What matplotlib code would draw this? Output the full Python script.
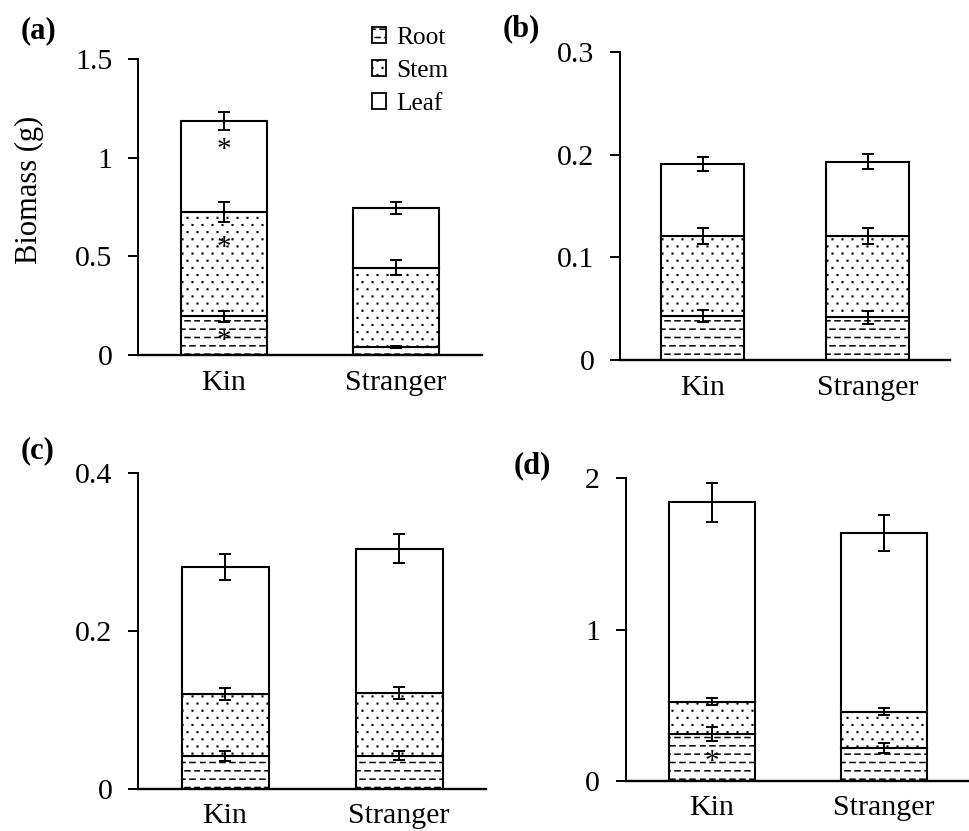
import warnings
import numpy as np
import matplotlib
matplotlib.use("Agg")
import matplotlib.pyplot as plt
import matplotlib.hatch as mhatch
from matplotlib.path import Path
from matplotlib.patches import Patch

warnings.filterwarnings("ignore")

#Values, order = Kin, Stranger
groups = ["Kin", "Stranger"]

# (a)
root_a = [0.197, 0.042]
stem_a = [0.529, 0.400]
leaf_a = [0.458, 0.301]
root_a_err = [0.028, 0.006]
stem_a_err = [0.051, 0.038]
leaf_a_err = [0.046, 0.030]

# (b)
root_b = [0.043, 0.0416]
stem_b = [0.078, 0.079]
leaf_b = [0.070, 0.0728]
root_b_err = [0.0060, 0.0062]
stem_b_err = [0.0075, 0.0077]
leaf_b_err = [0.0068, 0.0071]

# (c)
root_c = [0.0418, 0.042]
stem_c = [0.078, 0.079]
leaf_c = [0.161, 0.183]
root_c_err = [0.0063, 0.0063]
stem_c_err = [0.0078, 0.0078]
leaf_c_err = [0.0162, 0.0181]

# (d)
root_d = [0.309, 0.214]
stem_d = [0.212, 0.243]
leaf_d = [1.320, 1.183]
root_d_err = [0.047, 0.033]
stem_d_err = [0.023, 0.025]
leaf_d_err = [0.131, 0.118]

yticks_a = [0, 0.5, 1, 1.5]
yticks_b = [0, 0.1, 0.2, 0.3]
yticks_c = [0, 0.2, 0.4]
yticks_d = [0, 1, 2]


#Custom hatches: dashed rows for root, staggered dots for stem
class DashRows(mhatch.HatchPatternBase):
    def __init__(self, hatch, density):
        n = hatch.count('_')
        self.rows = 12 * n
        self.cols = 10
        self.num_vertices = self.rows * self.cols * 2

    def set_vertices_and_codes(self, vertices, codes):
        k = 0
        for r in range(self.rows):
            y = (r + 0.5) / self.rows
            shift = 0.5 * (r % 2)
            for c in range(self.cols):
                x0 = (c + shift) / self.cols
                vertices[k] = (x0, y)
                vertices[k + 1] = (x0 + 0.05, y)
                codes[k] = Path.MOVETO
                codes[k + 1] = Path.LINETO
                k += 2


class DotGrid(mhatch.HatchPatternBase):
    def __init__(self, hatch, density):
        n = hatch.count(':')
        self.rows = 14 * n
        self.cols = 10
        self.num_vertices = self.rows * self.cols * 5

    def set_vertices_and_codes(self, vertices, codes):
        s = 0.003
        k = 0
        for r in range(self.rows):
            y = (r + 0.5) / self.rows
            shift = 0.5 * (r % 2)
            for c in range(self.cols):
                x = (c + 0.25 + shift) / self.cols
                vertices[k:k + 5] = [(x - s, y - s), (x + s, y - s),
                                     (x + s, y + s), (x - s, y + s),
                                     (x - s, y - s)]
                codes[k:k + 5] = [Path.MOVETO, Path.LINETO, Path.LINETO,
                                  Path.LINETO, Path.CLOSEPOLY]
                k += 5


mhatch._hatch_types.append(DashRows)
mhatch._hatch_types.append(DotGrid)

plt.rcParams['font.family'] = 'Liberation Serif'
plt.rcParams['hatch.linewidth'] = 1.1
plt.rcParams['hatch.color'] = 'black'

W, H = 969, 831
fig = plt.figure(figsize=(W / 100, H / 100), dpi=100)


def px_axes(left, top, right, bottom):
    return fig.add_axes([left / W, 1 - bottom / H, (right - left) / W, (bottom - top) / H])


def draw_panel(ax, root, stem, leaf, root_err, stem_err, leaf_err, yticks):
    x = np.arange(len(groups))
    stem_top = np.add(root, stem)
    leaf_top = stem_top + np.array(leaf)
    ax.bar(x, root, 0.5, color='white', edgecolor='black', lw=1.5, hatch='_')
    ax.bar(x, stem, 0.5, bottom=root, color='white', edgecolor='black', lw=1.5, hatch=':')
    ax.bar(x, leaf, 0.5, bottom=stem_top, color='white', edgecolor='black', lw=1.5)
    for top, err in [(root, root_err), (stem_top, stem_err), (leaf_top, leaf_err)]:
        ax.errorbar(x, top, yerr=err, fmt='none', ecolor='black',
                    elinewidth=1.4, capsize=4.3, capthick=1.4)
    ax.set_xlim(-0.5, 1.5)
    ax.set_ylim(yticks[0], yticks[-1])
    ax.set_yticks(yticks)
    ax.set_yticklabels([f'{v:g}' for v in yticks])
    ax.set_xticks(x)
    ax.set_xticklabels(groups)
    ax.spines['top'].set_visible(False)
    ax.spines['right'].set_visible(False)
    ax.spines['left'].set_linewidth(1.4)
    ax.spines['bottom'].set_linewidth(1.7)
    ax.tick_params(axis='y', direction='out', length=7, width=1.4, pad=11.5, labelsize=21.5)
    ax.tick_params(axis='x', length=0, pad=10.5, labelsize=21.5)


def star(ax, x, y):
    ax.annotate('*', (x, y), xytext=(0, -10), textcoords='offset points',
                ha='center', va='baseline', fontsize=21)


ax_a = px_axes(138, 59, 482, 355)
draw_panel(ax_a, root_a, stem_a, leaf_a, root_a_err, stem_a_err, leaf_a_err, yticks_a)
star(ax_a, 0, 1.074)
star(ax_a, 0, 0.579)
star(ax_a, 0, 0.106)

ax_b = px_axes(620, 52.3, 950, 360)
draw_panel(ax_b, root_b, stem_b, leaf_b, root_b_err, stem_b_err, leaf_b_err, yticks_b)

ax_c = px_axes(138, 472.7, 486, 788.7)
draw_panel(ax_c, root_c, stem_c, leaf_c, root_c_err, stem_c_err, leaf_c_err, yticks_c)

ax_d = px_axes(625.7, 478.3, 969.5, 780.7)
draw_panel(ax_d, root_d, stem_d, leaf_d, root_d_err, stem_d_err, leaf_d_err, yticks_d)
star(ax_d, 0, 0.17)

#Panel letters and y label
for lab, (px, py) in zip(["(a)", "(b)", "(c)", "(d)"],
                         [(38, 31), (521, 29), (38, 451), (532, 466)]):
    fig.text(px / W, 1 - py / H, lab, ha='center', va='center',
             fontsize=22, fontweight='bold')
fig.text(29 / W, 1 - 190 / H, "Biomass (g)", rotation=90, ha='center',
         va='center', fontsize=22)

#Legend
handles = [Patch(facecolor='white', edgecolor='black', lw=1.3, hatch='_'),
           Patch(facecolor='white', edgecolor='black', lw=1.3, hatch=':'),
           Patch(facecolor='white', edgecolor='black', lw=1.3)]
fig.legend(handles, ["Root", "Stem", "Leaf"], loc='upper left',
           bbox_to_anchor=(372 / W, 1 - 27 / H), frameon=False, fontsize=18.3,
           handlelength=0.55, handleheight=0.55, handletextpad=0.4,
           labelspacing=0.43, borderpad=0, borderaxespad=0)

fig.savefig("out.png", dpi=100)
